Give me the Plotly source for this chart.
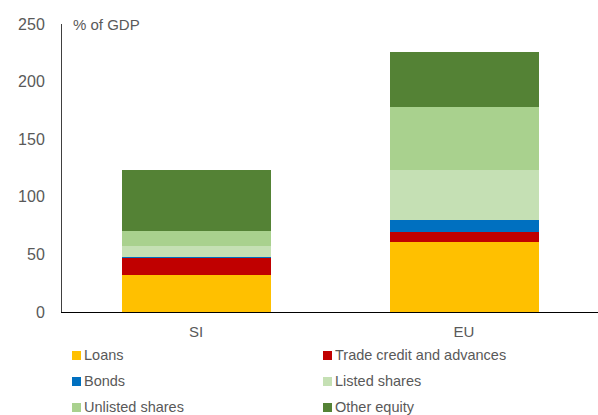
import plotly.graph_objects as go

categories = ["SI", "EU"]
series_names = ["Loans", "Trade credit and advances", "Bonds",
                "Listed shares", "Unlisted shares", "Other equity"]
loans = [32, 60.5]
trade_credit = [15.3, 9]
bonds = [0.4, 10.5]
listed_shares = [10, 43]
unlisted_shares = [12.5, 55]
other_equity = [53, 47.5]
series_values = [loans, trade_credit, bonds, listed_shares, unlisted_shares, other_equity]
colors = ["#FFC000", "#C00000", "#0070C0", "#C5E0B4", "#A9D18E", "#548235"]
y_ticks = [0, 50, 100, 150, 200, 250]

W, H = 598, 415
L, R, T, B = 62, 0, 24, 103
pw, ph = W - L - R, H - T - B

def px_x(x):
    return (x - L) / pw

def px_y(y):
    return (H - B - y) / ph

fig = go.Figure()
for name, vals, col in zip(series_names, series_values, colors):
    fig.add_trace(go.Bar(x=categories, y=vals, name=name,
                         marker=dict(color=col, line=dict(width=0)),
                         showlegend=False))

font_family = "Liberation Sans, Arial, sans-serif"
grey = "#595959"

annotations = [dict(text="% of GDP", xref="paper", yref="paper",
                    x=px_x(71), y=1, xanchor="left", yanchor="middle",
                    showarrow=False, font=dict(size=15, color=grey, family=font_family))]
shapes = []
col_x = [72, 323]
row_y = [355.5, 381.5, 407.5]
for i, name in enumerate(series_names):
    cx = col_x[i % 2]
    cy = row_y[i // 2]
    shapes.append(dict(type="rect", xref="paper", yref="paper",
                       x0=px_x(cx), x1=px_x(cx + 9), y0=px_y(cy - 4.5), y1=px_y(cy + 4.5),
                       fillcolor=colors[i], line=dict(width=0)))
    annotations.append(dict(text=name, xref="paper", yref="paper",
                            x=px_x(cx + 10), y=px_y(cy - 0.5), xanchor="left", yanchor="middle",
                            showarrow=False,
                            font=dict(size=14.5, color=grey, family=font_family)))

fig.update_layout(
    width=W, height=H,
    margin=dict(l=L, r=R, t=T, b=B),
    barmode="stack", bargap=0.444,
    plot_bgcolor="white", paper_bgcolor="white",
    font=dict(family=font_family, size=14, color=grey),
    showlegend=False,
    annotations=annotations, shapes=shapes,
    xaxis=dict(showline=True, linecolor="#000000", linewidth=1, showgrid=False,
               ticks="", ticklabelstandoff=6, tickfont=dict(size=15, color=grey),
               fixedrange=True),
    yaxis=dict(range=[0, 250], tickvals=y_ticks, showline=True, linecolor="#404040",
               linewidth=1, showgrid=False, zeroline=False, ticks="",
               ticklabelstandoff=13, tickfont=dict(size=16, color=grey),
               fixedrange=True),
)

fig.write_html("out.html", config={"displayModeBar": False, "staticPlot": True},
               post_script="document.body.style.margin='0px';document.body.style.overflow='hidden';")
